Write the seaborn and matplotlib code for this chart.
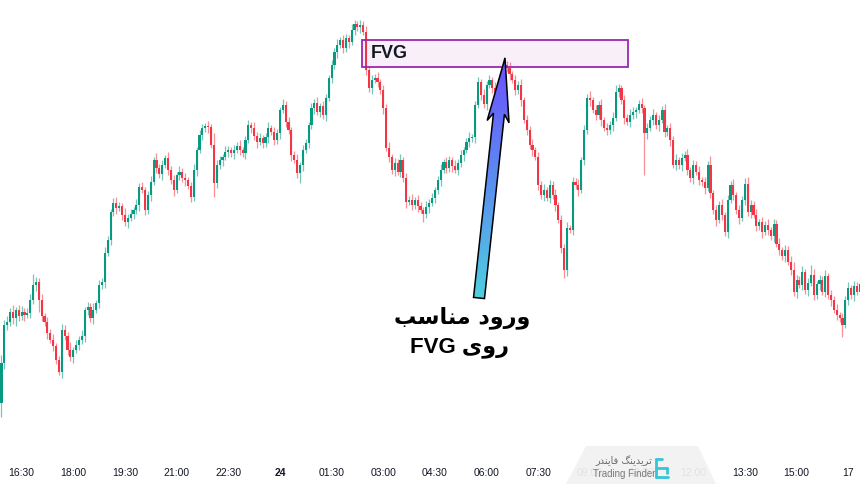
import numpy as np
import pandas as pd
import seaborn as sns
import matplotlib.pyplot as plt
from matplotlib.patches import Polygon, Rectangle
from matplotlib.colors import LinearSegmentedColormap


# 5-minute candles, price in chart units
FIRST_OPEN = 47
closes = [
    87, 125, 128, 138, 132, 140, 134, 138, 135, 137, 150, 165, 168, 150, 134, 128, 117, 110, 104, 90,
    78, 120, 114, 100, 93, 100, 105, 110, 114, 140, 143, 132, 140, 147, 165, 168, 197, 210, 238, 247,
    242, 244, 235, 228, 232, 236, 240, 245, 263, 260, 240, 255, 268, 290, 282, 276, 285, 292, 280, 270,
    260, 275, 278, 272, 270, 264, 253, 280, 300, 315, 322, 324, 323, 305, 267, 285, 290, 293, 298, 300,
    297, 300, 304, 300, 297, 310, 325, 322, 314, 308, 312, 307, 313, 322, 318, 310, 317, 340, 345, 328,
    320, 295, 290, 277, 285, 300, 307, 325, 342, 347, 338, 344, 335, 352, 372, 385, 398, 405, 410, 402,
    412, 408, 420, 426, 423, 425, 418, 380, 362, 370, 372, 368, 360, 342, 302, 293, 280, 287, 278, 290,
    272, 248, 250, 245, 250, 244, 240, 236, 243, 247, 252, 260, 270, 280, 288, 282, 290, 284, 280, 287,
    295, 300, 308, 312, 313, 345, 368, 355, 346, 365, 370, 362, 358, 367, 365, 385, 382, 376, 370, 360,
    365, 350, 330, 320, 305, 300, 293, 265, 255, 260, 252, 265, 255, 245, 230, 202, 180, 222, 220, 268,
    265, 260, 290, 320, 352, 350, 340, 335, 345, 330, 322, 320, 325, 332, 358, 362, 350, 332, 328, 335,
    338, 340, 346, 342, 317, 322, 330, 335, 325, 330, 340, 318, 322, 310, 285, 290, 285, 292, 295, 280,
    272, 285, 278, 270, 268, 262, 285, 257, 240, 230, 245, 235, 218, 250, 265, 255, 240, 232, 250, 266,
    238, 245, 235, 224, 228, 218, 225, 220, 214, 226, 206, 200, 194, 200, 188, 180, 158, 170, 165, 178,
    160, 167, 175, 155, 166, 170, 158, 174, 155, 150, 140, 135, 132, 125, 150, 162, 155, 164, 158, 166,
]
upper_wicks = [
    8, 5, 6, 4, 7, 3, 5, 6, 4, 5, 6, 11, 5, 4, 6, 3, 5, 4, 6, 3,
    4, 6, 5, 4, 8, 3, 5, 4, 6, 3, 5, 4, 7, 3, 5, 4, 6, 4, 3, 5,
    6, 4, 3, 7, 4, 5, 3, 6, 4, 5, 3, 4, 6, 3, 7, 4, 5, 3, 6, 4,
    5, 3, 6, 4, 5, 3, 4, 6, 3, 5, 4, 3, 5, 3, 12, 5, 4, 3, 6, 4,
    3, 5, 4, 6, 3, 4, 5, 3, 6, 4, 5, 3, 4, 6, 3, 5, 4, 3, 6, 4,
    5, 3, 4, 6, 3, 5, 4, 3, 5, 4, 6, 3, 5, 4, 3, 5, 4, 6, 3, 5,
    4, 3, 6, 4, 3, 5, 4, 6, 3, 5, 4, 6, 3, 5, 4, 6, 3, 5, 4, 6,
    3, 5, 4, 6, 3, 5, 4, 3, 6, 4, 5, 3, 4, 6, 3, 5, 4, 3, 6, 4,
    5, 3, 4, 6, 3, 4, 5, 3, 6, 4, 5, 3, 6, 4, 5, 8, 4, 6, 3, 5,
    4, 6, 3, 5, 4, 6, 3, 5, 4, 6, 3, 5, 4, 6, 3, 5, 4, 6, 3, 5,
    4, 6, 3, 5, 4, 7, 3, 5, 4, 6, 3, 5, 4, 6, 7, 4, 3, 5, 4, 6,
    5, 3, 4, 6, 3, 5, 4, 6, 3, 5, 4, 6, 3, 5, 4, 6, 3, 5, 4, 6,
    3, 5, 4, 6, 3, 5, 4, 9, 3, 5, 4, 6, 3, 5, 4, 6, 3, 5, 4, 6,
    7, 5, 4, 6, 3, 5, 4, 6, 3, 5, 4, 6, 3, 5, 4, 6, 8, 5, 4, 6,
    3, 5, 10, 6, 3, 5, 4, 6, 3, 5, 4, 6, 3, 5, 4, 6, 3, 5, 4, 6,
]
lower_wicks = [
    14, 6, 5, 4, 6, 8, 5, 4, 6, 3, 5, 4, 6, 12, 5, 4, 6, 3, 5, 4,
    3, 6, 4, 5, 4, 6, 3, 5, 4, 6, 5, 4, 6, 3, 5, 4, 6, 3, 5, 4,
    6, 3, 5, 4, 6, 3, 5, 4, 6, 3, 5, 4, 6, 3, 5, 4, 6, 3, 5, 4,
    6, 3, 5, 4, 6, 3, 5, 4, 6, 3, 5, 4, 6, 3, 14, 5, 4, 6, 3, 5,
    4, 6, 3, 5, 4, 6, 3, 5, 4, 6, 3, 5, 4, 6, 3, 5, 4, 6, 3, 5,
    4, 6, 3, 5, 10, 6, 3, 5, 4, 6, 3, 5, 4, 6, 3, 5, 4, 6, 3, 5,
    4, 6, 3, 5, 4, 6, 3, 5, 4, 6, 3, 5, 4, 6, 3, 5, 4, 6, 3, 5,
    4, 6, 3, 5, 4, 6, 3, 8, 4, 6, 3, 5, 4, 6, 3, 5, 4, 6, 3, 5,
    4, 6, 3, 5, 4, 6, 3, 5, 4, 6, 3, 5, 4, 6, 3, 5, 4, 6, 3, 5,
    4, 6, 3, 5, 4, 6, 3, 5, 4, 6, 3, 5, 4, 6, 3, 5, 8, 6, 3, 5,
    4, 6, 3, 5, 4, 6, 3, 5, 4, 6, 3, 5, 4, 6, 3, 5, 4, 6, 3, 5,
    4, 6, 3, 5, 42, 6, 3, 5, 4, 6, 3, 5, 4, 6, 3, 5, 4, 6, 3, 5,
    4, 6, 3, 5, 4, 6, 3, 5, 4, 6, 3, 5, 4, 6, 3, 5, 4, 6, 3, 5,
    4, 6, 3, 5, 4, 6, 3, 5, 4, 6, 3, 5, 4, 6, 3, 5, 4, 6, 3, 5,
    4, 6, 3, 5, 4, 6, 3, 5, 4, 6, 3, 5, 4, 12, 3, 5, 4, 6, 3, 5,
]

tick_candles = [7, 25, 43, 61, 79, 97, 115, 133, 151, 169, 187, 205, 223, 241, 259, 277, 295]
tick_labels = ["16:30", "18:00", "19:30", "21:00", "22:30", "24", "01:30", "03:00", "04:30",
               "06:00", "07:30", "09:00", "10:30", "12:00", "13:30", "15:00", "17"]

# fair value gap zone (candle index / price)
fvg_start, fvg_end = 125.5, 218.2
fvg_low, fvg_high = 383, 410

UP = "#089981"
DOWN = "#f23645"

# Persian text in visual (shaped, left-to-right) order
# "ورود مناسب" / "روی FVG" / "تریدینگ فایندر"
LINE1 = "\uFE90\uFEB3\uFE8E\uFEE8\uFEE3 \uFEA9\uFEED\uFEAD\uFEED"
LINE2 = "FVG \uFBFC\uFEED\uFEAD"
BRAND_FA = "\uFEAD\uFEAA\uFEE8\uFBFE\uFE8E\uFED3 \uFB93\uFEE8\uFBFE\uFEAA\uFBFE\uFEAE\uFE97"


def build_frame():
    df = pd.DataFrame({"close": closes})
    df["open"] = df["close"].shift(1).fillna(FIRST_OPEN)
    df["high"] = df[["open", "close"]].max(axis=1) + np.array(upper_wicks)
    df["low"] = df[["open", "close"]].min(axis=1) - np.array(lower_wicks)
    df["idx"] = np.arange(len(df))
    df["up"] = df["close"] >= df["open"]
    return df


def plot_chart(df):
    sns.set_theme(style="white")
    plt.rcParams["font.family"] = ["Liberation Sans", "DejaVu Sans"]

    fig = plt.figure(figsize=(8.6, 4.84), dpi=100)
    ax = fig.add_axes([0, 26 / 484, 1, 458 / 484])

    colors = np.where(df["up"], UP, DOWN)
    ax.vlines(df["idx"], df["low"], df["high"], colors=colors, linewidth=0.9, alpha=0.55, zorder=2)
    body = (df["close"] - df["open"]).abs().clip(lower=1.0)
    ax.bar(df["idx"], body, bottom=df[["open", "close"]].min(axis=1), width=0.74,
           color=colors, linewidth=0, zorder=3)

    # FVG box
    ax.add_patch(Rectangle((fvg_start, fvg_low), fvg_end - fvg_start, fvg_high - fvg_low,
                           facecolor=(0.61, 0.15, 0.69, 0.07), edgecolor="#9c27b0",
                           linewidth=1.3, zorder=4))
    ax.text(fvg_start + 3, (fvg_low + fvg_high) / 2, "FVG", fontsize=13, fontweight="bold",
            color="#131722", va="center", ha="left", zorder=5)

    ax.set_xlim(-0.52, 299.1)
    ax.set_ylim(-8, 450)
    ax.set_xticks(tick_candles, tick_labels)
    ax.set_yticks([])
    ax.tick_params(axis="x", length=0, pad=7, labelsize=7.5, colors="#131722")
    ax.get_xticklabels()[5].set_fontweight("bold")
    for s in ax.spines.values():
        s.set_visible(False)

    # overlay in pixel coordinates for arrow, label and watermark
    ov = fig.add_axes([0, 0, 1, 1], zorder=5)
    ov.patch.set_alpha(0)

    tail = np.array([479.0, 298.0])
    tip = np.array([505.0, 58.0])
    u = (tip - tail) / np.linalg.norm(tip - tail)
    n = np.array([-u[1], u[0]])
    neck = tip - 56 * u
    pts = [tail - 5.5 * n, neck - 5.5 * n, neck - 11 * n - 8 * u, tip,
           neck + 11 * n - 8 * u, neck + 5.5 * n, tail + 5.5 * n]
    arrow = Polygon(pts, closed=True, facecolor="none", edgecolor="black", linewidth=1.1, zorder=7)
    ov.add_patch(arrow)
    grad = np.linspace(0, 1, 256).reshape(-1, 1)
    cmap = LinearSegmentedColormap.from_list("arr", ["#6f4dff", "#5b8cf0", "#4fd0e0"])
    im = ov.imshow(grad, cmap=cmap, extent=(460, 525, 300, 55), aspect="auto", zorder=6)
    im.set_clip_path(arrow)

    ov.text(462, 318, LINE1, fontsize=16, fontweight="bold", color="black",
            ha="center", va="center", family=["DejaVu Sans"])
    ov.text(460, 348, LINE2, fontsize=16, fontweight="bold", color="black",
            ha="center", va="center", family=["Liberation Sans", "DejaVu Sans"])

    # watermark
    ov.add_patch(Polygon([(566, 484), (586, 446), (698, 446), (716, 484)], closed=True,
                         facecolor="#f2f2f2", edgecolor="none", alpha=0.93, zorder=6))
    ov.text(624, 461, BRAND_FA, fontsize=7, color="#6b6b6b", ha="center", va="center",
            family=["DejaVu Sans"], zorder=7)
    ov.text(624, 474, "Trading Finder", fontsize=7, color="#7a7a7a", ha="center", va="center",
            zorder=7)
    for xs, ys in [([656, 656], [459, 477]), ([656, 662], [459, 459]),
                   ([656, 667], [468, 468]), ([656, 668], [477, 477]), ([667, 667], [468, 473])]:
        ov.plot(xs, ys, color="#36c5d8", linewidth=2, solid_capstyle="round", zorder=7)

    ov.set_xlim(0, 860)
    ov.set_ylim(484, 0)
    ov.axis("off")

    fig.savefig("out.png", dpi=100, facecolor="white")
    plt.close(fig)


plot_chart(build_frame())
